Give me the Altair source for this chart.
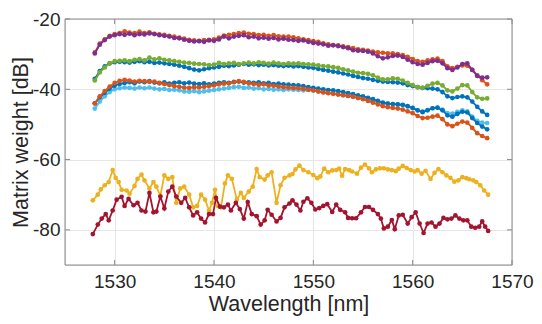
import altair as alt
import numpy as np
import pandas as pd

# wavelength grid for the smooth series (nm)
wl = [round(1528.0 + 0.5 * i, 1) for i in range(80)]

blue_a = [-37.0, -34.8, -33.5, -32.6, -32.3, -32.2, -32.3, -32.4, -32.2, -32.0,
          -32.3, -32.2, -32.5, -32.4, -32.6, -32.8, -33.0, -33.3, -33.6, -34.0,
          -34.4, -34.6, -34.3, -34.0, -33.8, -33.6, -33.3, -33.4, -33.2, -33.0,
          -32.8, -33.0, -32.9, -33.1, -33.0, -33.2, -33.1, -33.3, -33.4, -33.3,
          -33.5, -33.4, -33.6, -33.8, -33.9, -34.2, -34.5, -34.7, -35.0, -35.2,
          -35.5, -35.8, -36.2, -36.5, -36.8, -37.0, -37.3, -37.6, -37.8, -37.9,
          -38.0, -38.1, -38.3, -38.8, -39.1, -39.4, -39.6, -39.7, -39.8, -40.0,
          -40.8, -42.0, -42.5, -42.2, -42.0, -42.3, -43.5, -45.0, -46.3, -47.3]

orange_a = [-29.5, -27.0, -25.8, -24.8, -24.3, -24.0, -23.5, -23.9, -24.0, -23.6,
            -24.0, -23.8, -24.2, -24.4, -24.5, -24.8, -25.0, -25.3, -25.6, -25.9,
            -26.1, -26.2, -26.0, -25.9, -25.8, -25.3, -24.7, -24.5, -24.3, -24.0,
            -23.9, -24.2, -24.3, -24.6, -24.5, -24.8, -24.6, -24.9, -25.0, -25.0,
            -25.2, -25.5, -25.8, -26.0, -26.3, -26.5, -26.9, -27.2, -27.4, -27.5,
            -27.8, -28.0, -28.3, -28.6, -28.8, -29.0, -29.3, -29.5, -29.6, -29.8,
            -29.8, -30.0, -30.3, -30.8, -31.4, -32.0, -32.2, -31.8, -31.5, -31.3,
            -32.0, -33.5, -34.0, -33.6, -33.2, -33.3, -34.5, -36.0, -37.4, -38.6]

purple = [-29.8, -27.3, -26.0, -25.0, -24.6, -24.3, -24.5, -24.2, -24.6, -24.3,
          -24.4, -24.1, -24.3, -24.6, -24.8, -25.0, -25.4, -25.5, -25.9, -26.2,
          -26.4, -26.3, -26.5, -26.1, -26.2, -25.8, -25.0, -25.5, -25.0, -24.8,
          -24.6, -25.2, -25.0, -25.5, -25.3, -25.6, -25.4, -25.8, -25.6, -25.9,
          -26.0, -26.2, -26.1, -26.5, -26.8, -27.0, -27.2, -27.6, -27.5, -27.7,
          -28.0, -28.3, -28.9, -29.0, -29.1, -29.3, -29.8, -30.6, -31.2, -30.9,
          -30.5, -30.4, -30.8, -31.6, -32.3, -32.8, -33.0, -32.5, -32.0, -31.9,
          -32.6, -34.0, -34.5, -33.8, -32.8, -32.6, -34.5, -36.2, -36.7, -36.6]

green = [-37.5, -35.2, -33.8, -32.6, -32.0, -31.9, -31.8, -32.0, -31.6, -31.4,
         -31.8, -31.0, -31.5, -31.2, -31.6, -31.8, -32.0, -32.2, -32.4, -32.5,
         -32.7, -32.8, -32.9, -33.1, -33.0, -32.5, -32.8, -32.6, -32.5, -32.8,
         -32.6, -32.4, -32.6, -32.3, -32.5, -32.7, -32.4, -32.6, -32.8, -32.6,
         -32.7, -32.6, -32.8, -32.9, -33.0, -33.2, -33.4, -33.5, -33.7, -33.9,
         -34.3, -34.6, -35.0, -35.3, -35.4, -35.6, -36.0, -36.7, -37.2, -37.2,
         -36.9, -37.0, -37.5, -38.2, -38.8, -39.4, -39.6, -39.0, -38.4, -38.2,
         -38.9, -40.3, -40.6, -39.8, -38.8, -38.9, -40.8, -42.3, -42.7, -42.6]

cyan = [-45.5, -43.5, -42.0, -40.8, -40.0, -39.7, -39.5, -39.6, -39.8, -39.5,
        -39.7, -39.5, -39.8, -40.0, -39.9, -40.2, -40.1, -40.3, -40.6, -40.7,
        -40.5, -40.8, -40.6, -40.4, -40.2, -40.0, -39.8, -39.6, -39.4, -39.3,
        -39.6, -39.5, -39.8, -39.7, -40.0, -39.9, -40.1, -40.0, -40.2, -40.0,
        -40.1, -40.2, -40.3, -40.2, -40.4, -40.6, -40.8, -41.0, -41.2, -41.4,
        -41.7, -41.9, -42.2, -42.4, -42.6, -42.9, -43.2, -43.6, -43.9, -44.1,
        -44.2, -44.3, -44.5, -44.9, -45.4, -46.0, -46.3, -45.9, -45.4, -45.3,
        -45.8, -46.8, -46.9, -46.4, -46.0, -46.3, -47.8, -49.0, -49.5, -49.6]

blue_b = [-44.0, -42.3, -41.0, -39.8, -39.0, -38.5, -38.2, -38.0, -38.3, -37.8,
          -38.0, -37.7, -38.1, -38.3, -38.0, -38.4, -38.2, -38.0, -38.3, -38.1,
          -38.4, -38.5, -38.3, -38.6, -38.4, -38.2, -38.0, -38.2, -37.9, -37.8,
          -38.1, -38.0, -38.2, -38.0, -38.3, -38.2, -38.5, -38.4, -38.6, -38.7,
          -38.8, -38.9, -39.1, -39.4, -39.6, -39.8, -40.0, -40.2, -40.3, -40.5,
          -40.8, -41.1, -41.4, -41.7, -42.0, -42.4, -42.8, -43.3, -43.8, -44.1,
          -44.2, -44.3, -44.4, -44.8, -45.3, -46.0, -46.5, -46.0, -45.4, -45.2,
          -46.0, -47.4, -47.8, -47.0, -46.4, -46.6, -48.2, -49.6, -50.6, -51.4]

orange_b = [-44.0, -42.0, -40.5, -39.2, -38.2, -37.6, -37.3, -37.5, -37.8, -37.6,
            -37.7, -37.9, -37.8, -38.2, -38.5, -38.8, -39.1, -39.3, -39.5, -39.6,
            -39.4, -39.5, -39.3, -39.1, -38.9, -38.6, -38.4, -38.3, -38.0, -37.7,
            -37.9, -38.3, -38.5, -38.7, -38.6, -38.9, -39.0, -39.2, -39.4, -39.5,
            -39.6, -39.7, -39.9, -40.1, -40.3, -40.6, -40.9, -41.1, -41.3, -41.5,
            -41.7, -41.9, -42.1, -42.5, -42.8, -43.3, -43.8, -44.3, -44.8, -45.1,
            -45.3, -45.5, -45.8, -46.3, -46.8, -47.6, -48.2, -48.1, -47.8, -47.5,
            -48.5, -50.0, -50.5, -49.8, -49.2, -49.5, -51.0, -52.5, -53.3, -53.9]

yellow_wl = [1527.8, 1528.3, 1528.6, 1529.0, 1529.4, 1529.8, 1530.1, 1530.4, 1530.7, 1531.2,
             1531.5, 1532.0, 1532.3, 1532.7, 1533.0, 1533.5, 1533.9, 1534.2, 1534.6, 1535.0,
             1535.4, 1535.8, 1536.2, 1536.6, 1537.0, 1537.5, 1537.9, 1538.3, 1538.7, 1539.1,
             1539.5, 1539.8, 1540.1, 1540.4, 1540.7, 1541.1, 1541.4, 1541.8, 1542.3, 1542.7,
             1543.0, 1543.5, 1543.9, 1544.3, 1544.6, 1545.1, 1545.4, 1545.8, 1546.3, 1546.7,
             1547.1, 1547.6, 1547.9, 1548.2, 1548.6, 1549.0, 1549.5, 1550.0, 1550.4, 1550.7,
             1551.1, 1551.5, 1551.9, 1552.3, 1552.6, 1552.9, 1553.2, 1553.6, 1553.9, 1554.4,
             1554.8, 1555.2, 1555.6, 1555.9, 1556.3, 1556.7, 1557.1, 1557.5, 1557.9, 1558.3,
             1558.6, 1559.0, 1559.4, 1559.8, 1560.2, 1560.5, 1560.9, 1561.3, 1561.8, 1562.2,
             1562.6, 1563.0, 1563.4, 1563.8, 1564.2, 1564.6, 1565.0, 1565.4, 1565.7, 1566.1,
             1566.4, 1566.8, 1567.2, 1567.6]
yellow = [-71.6, -70.0, -68.5, -67.3, -66.4, -63.0, -65.2, -66.4, -68.6, -68.8,
          -69.7, -67.5, -65.5, -64.3, -65.9, -68.2, -66.4, -67.7, -70.3, -64.5,
          -65.5, -65.0, -72.3, -68.2, -67.7, -70.0, -73.6, -73.2, -70.0, -71.4,
          -74.5, -72.3, -68.6, -73.2, -73.6, -66.8, -64.5, -65.5, -71.4, -69.5,
          -70.9, -69.1, -67.7, -62.7, -65.0, -65.7, -64.5, -63.6, -72.3, -67.3,
          -65.2, -64.5, -64.1, -62.8, -61.7, -63.0, -63.6, -64.4, -65.3, -64.8,
          -62.6, -63.6, -63.1, -63.0, -62.6, -64.6, -62.7, -63.0, -63.4, -64.0,
          -62.3, -61.4, -62.5, -63.6, -62.8, -62.5, -62.5, -62.8, -63.0, -63.3,
          -62.6, -61.8, -62.4, -63.0, -63.4, -63.0, -64.0, -63.2, -65.5, -63.8,
          -62.7, -63.6, -64.5, -65.2, -66.3, -65.9, -65.0, -65.3, -65.6, -65.9,
          -66.4, -67.3, -68.8, -70.0]

red_wl = [1527.8, 1528.3, 1528.7, 1529.1, 1529.4, 1529.8, 1530.2, 1530.7, 1531.0, 1531.4,
          1531.9, 1532.3, 1532.7, 1533.1, 1533.5, 1533.9, 1534.2, 1534.6, 1535.0, 1535.4,
          1535.8, 1536.2, 1536.7, 1537.1, 1537.5, 1537.9, 1538.3, 1538.7, 1539.1, 1539.5,
          1539.9, 1540.2, 1540.6, 1541.0, 1541.4, 1541.7, 1542.2, 1542.6, 1543.0, 1543.4,
          1543.8, 1544.3, 1544.7, 1545.1, 1545.4, 1545.8, 1546.3, 1546.7, 1547.1, 1547.6,
          1547.9, 1548.3, 1548.7, 1549.0, 1549.4, 1549.8, 1550.2, 1550.6, 1551.0, 1551.4,
          1551.9, 1552.3, 1552.7, 1553.2, 1553.5, 1553.9, 1554.3, 1554.8, 1555.2, 1555.6,
          1556.0, 1556.5, 1556.8, 1557.1, 1557.5, 1557.9, 1558.2, 1558.6, 1559.0, 1559.5,
          1559.9, 1560.3, 1560.7, 1561.1, 1561.5, 1561.9, 1562.3, 1562.7, 1563.1, 1563.5,
          1563.9, 1564.3, 1564.7, 1565.1, 1565.5, 1565.9, 1566.3, 1566.7, 1567.0, 1567.3,
          1567.6]
red = [-81.2, -78.5, -76.8, -75.5, -77.3, -74.5, -71.4, -70.6, -73.2, -71.2,
       -73.0, -72.3, -74.5, -74.8, -69.5, -75.0, -74.8, -70.5, -73.9, -69.1,
       -67.7, -70.5, -72.3, -70.9, -73.6, -75.9, -75.0, -76.8, -77.9, -75.5,
       -75.5, -70.9, -73.4, -73.6, -72.8, -74.5, -72.3, -74.1, -76.8, -72.1,
       -75.5, -76.1, -78.5, -77.3, -74.3, -75.7, -77.6, -76.6, -73.6, -72.5,
       -71.6, -72.8, -74.5, -72.0, -71.0, -72.3, -74.2, -73.8, -73.2, -72.7,
       -74.9, -72.8, -74.3, -75.0, -76.6, -76.7, -76.7, -75.0, -73.5, -73.5,
       -74.3, -75.5, -76.8, -79.6, -79.1, -77.2, -79.8, -75.9, -75.7, -78.2,
       -76.4, -75.0, -78.2, -80.9, -78.2, -77.9, -79.1, -78.2, -76.6, -77.0,
       -76.8, -75.9, -76.8, -77.3, -77.3, -79.1, -79.4, -79.1, -77.6, -79.1,
       -80.3]

x_ticks = [1530, 1540, 1550, 1560, 1570]
y_ticks = [-80, -60, -40, -20]

series = [
    (wl, blue_a, "#0072BD"),
    (wl, orange_a, "#D95319"),
    (yellow_wl, yellow, "#EDB120"),
    (wl, purple, "#7E2F8E"),
    (wl, green, "#77AC30"),
    (wl, cyan, "#4DBEEE"),
    (red_wl, red, "#A2142F"),
    (wl, blue_b, "#0072BD"),
    (wl, orange_b, "#D95319"),
]

W, H = 447, 246
FONT = "Liberation Sans"
TXT = "#262626"
AX = "#8a8a8a"

x_enc = alt.X("wl:Q",
              scale=alt.Scale(domain=[1525, 1570], nice=False, zero=False),
              axis=alt.Axis(values=x_ticks, format="d", title="Wavelength [nm]",
                            grid=True, gridColor="#e6e6e6", domain=False, ticks=False,
                            labelFlush=False,
                            labelFont=FONT, titleFont=FONT, labelFontSize=19, titleFontSize=21.5,
                            titleFontWeight="normal", labelColor=TXT, titleColor=TXT,
                            labelPadding=7, titlePadding=2))
y_enc = alt.Y("db:Q",
              scale=alt.Scale(domain=[-90, -20], nice=False, zero=False),
              axis=alt.Axis(values=y_ticks, labelExpr="'' + datum.value", title="Matrix weight [dB]",
                            grid=True, gridColor="#e6e6e6", domain=False, ticks=False,
                            labelFlush=False,
                            labelFont=FONT, titleFont=FONT, labelFontSize=19, titleFontSize=21.5,
                            titleFontWeight="normal", labelColor=TXT, titleColor=TXT,
                            labelPadding=5, titlePadding=0))

layers = []
for xs, ys, col in series:
    df = pd.DataFrame({"wl": xs, "db": ys})
    layers.append(
        alt.Chart(df).mark_line(color=col, strokeWidth=1.8,
                                point=alt.OverlayMarkDef(color=col, filled=True, size=22, opacity=1))
        .encode(x=x_enc, y=y_enc)
    )

# inward tick marks (MATLAB style)
xt = pd.DataFrame({"wl": x_ticks})
yt = pd.DataFrame({"db": y_ticks})
layers.append(alt.Chart(xt).mark_rule(color=AX, strokeWidth=1).encode(x=x_enc, y=alt.value(H), y2=alt.value(H - 5)))
layers.append(alt.Chart(xt).mark_rule(color=AX, strokeWidth=1).encode(x=x_enc, y=alt.value(0), y2=alt.value(5)))
layers.append(alt.Chart(yt).mark_rule(color=AX, strokeWidth=1).encode(y=y_enc, x=alt.value(0), x2=alt.value(5)))
layers.append(alt.Chart(yt).mark_rule(color=AX, strokeWidth=1).encode(y=y_enc, x=alt.value(W), x2=alt.value(W - 5)))

# axes box
box = pd.DataFrame({"a": [0]})
layers.append(alt.Chart(box).mark_rule(color=AX, strokeWidth=1).encode(x=alt.value(0), x2=alt.value(W), y=alt.value(0)))
layers.append(alt.Chart(box).mark_rule(color=AX, strokeWidth=1).encode(x=alt.value(0), x2=alt.value(W), y=alt.value(H)))
layers.append(alt.Chart(box).mark_rule(color=AX, strokeWidth=1).encode(y=alt.value(0), y2=alt.value(H), x=alt.value(0)))
layers.append(alt.Chart(box).mark_rule(color=AX, strokeWidth=1).encode(y=alt.value(0), y2=alt.value(H), x=alt.value(W)))

chart = alt.layer(*layers).properties(
    width=W, height=H,
    autosize=alt.AutoSizeParams(type="none"),
    padding={"left": 57, "top": 11, "right": 22, "bottom": 51},
).configure_view(stroke=None).configure(background="white")

chart.save("out.html", embed_options={"renderer": "svg", "actions": False})
